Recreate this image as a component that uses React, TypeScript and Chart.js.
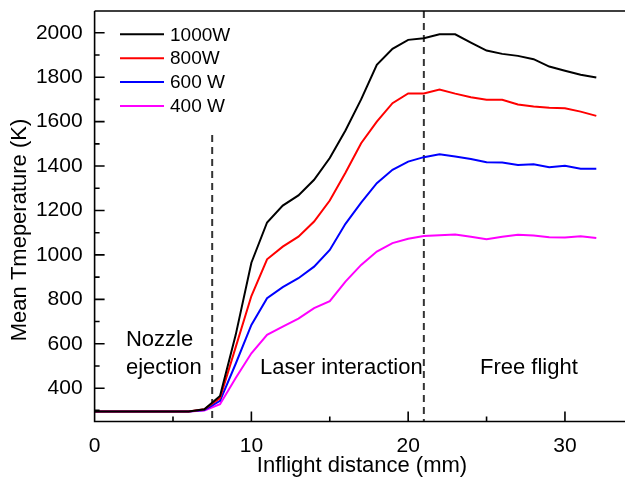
import React, { useEffect, useRef } from "react";
import { Chart, registerables } from "chart.js";

Chart.register(...registerables);

const distance = [0, 1, 2, 3, 4, 5, 6, 7, 8, 9, 10, 11, 12, 13, 14, 15, 16, 17, 18, 19, 20, 21, 22, 23, 24, 25, 26, 27, 28, 29, 30, 31, 32];

const temp1000 = [295, 295, 295, 295, 295, 295, 295, 305, 365, 640, 965, 1146, 1222, 1268, 1338, 1436, 1560, 1700, 1856, 1928, 1968, 1975, 1993, 1993, 1956, 1920, 1905, 1896, 1881, 1848, 1829, 1811, 1799];
const temp800 = [295, 295, 295, 295, 295, 295, 295, 305, 355, 585, 815, 980, 1037, 1082, 1150, 1245, 1370, 1503, 1600, 1683, 1727, 1727, 1745, 1726, 1710, 1698, 1698, 1677, 1668, 1662, 1660, 1645, 1626];
const temp600 = [295, 295, 295, 295, 295, 295, 295, 302, 343, 510, 685, 805, 855, 895, 947, 1022, 1140, 1235, 1323, 1383, 1420, 1440, 1453, 1443, 1432, 1417, 1416, 1405, 1408, 1395, 1401, 1388, 1388];
const temp400 = [295, 295, 295, 295, 295, 295, 295, 300, 328, 446, 557, 640, 677, 713, 760, 792, 880, 955, 1015, 1053, 1073, 1085, 1088, 1092, 1082, 1070, 1082, 1091, 1087, 1080, 1078, 1084, 1076];

const seriesLabels = ["1000W", "800W", "600 W", "400 W"];
const seriesColors = ["#000000", "#ff0000", "#0000ff", "#ff00ff"];

const xTicks = [0, 10, 20, 30];
const xMinorTicks = [5, 15, 25];
const yTicks = [400, 600, 800, 1000, 1200, 1400, 1600, 1800, 2000];
const yMinorTicks = [300, 500, 700, 900, 1100, 1300, 1500, 1700, 1900];

// dashed dividers: [x, yTop, yBottom]
const divider1 = [7.5, 1540, 250];
const divider2 = [21, 2098, 250];

const regionLabels = [
  { lines: ["Nozzle", "ejection"], x: 2.0, y: 622 },
  { lines: ["Laser interaction"], x: 10.55, y: 497 },
  { lines: ["Free flight"], x: 24.58, y: 497 },
];

const FONT = '"Liberation Sans", Arial, sans-serif';

export default function App() {
  const ref = useRef<HTMLCanvasElement | null>(null);

  useEffect(() => {
    if (!ref.current) return;
    const mk = (vals: number[]) => vals.map((v, i) => ({ x: distance[i], y: v }));
    const series = [temp1000, temp800, temp600, temp400];

    const framePlugin = {
      id: "frame",
      afterDraw(chart: any) {
        const { ctx, chartArea, scales } = chart;
        const { left, right, top, bottom } = chartArea;
        const x = scales.x;
        const y = scales.y;
        ctx.save();
        ctx.strokeStyle = "#000";
        ctx.lineWidth = 1.6;
        ctx.beginPath();
        ctx.moveTo(left, top);
        ctx.lineTo(right, top);
        ctx.moveTo(left, top);
        ctx.lineTo(left, bottom);
        ctx.lineTo(right, bottom);
        xTicks.forEach((v) => {
          const p = x.getPixelForValue(v);
          ctx.moveTo(p, bottom);
          ctx.lineTo(p, bottom - 10);
        });
        xMinorTicks.forEach((v) => {
          const p = x.getPixelForValue(v);
          ctx.moveTo(p, bottom);
          ctx.lineTo(p, bottom - 5);
        });
        yTicks.forEach((v) => {
          const p = y.getPixelForValue(v);
          ctx.moveTo(left, p);
          ctx.lineTo(left + 10, p);
        });
        yMinorTicks.forEach((v) => {
          const p = y.getPixelForValue(v);
          ctx.moveTo(left, p);
          ctx.lineTo(left + 5, p);
        });
        ctx.stroke();

        // legend
        ctx.font = `19px ${FONT}`;
        ctx.textBaseline = "middle";
        ctx.textAlign = "left";
        seriesLabels.forEach((lab, i) => {
          const yy = 34.3 + i * 23.9;
          ctx.strokeStyle = seriesColors[i];
          ctx.lineWidth = 2;
          ctx.beginPath();
          ctx.moveTo(120, yy);
          ctx.lineTo(164, yy);
          ctx.stroke();
          ctx.fillStyle = "#000";
          ctx.fillText(lab, 170, yy + 1);
        });

        // region labels
        ctx.font = `22px ${FONT}`;
        ctx.fillStyle = "#000";
        regionLabels.forEach((r) => {
          const px = x.getPixelForValue(r.x);
          const py = y.getPixelForValue(r.y);
          r.lines.forEach((ln, j) => {
            ctx.fillText(ln, px, py + j * 27.7 + 1);
          });
        });

        // axis titles
        ctx.font = `22px ${FONT}`;
        ctx.textAlign = "center";
        ctx.fillText("Inflight distance (mm)", 362, 466);
        ctx.save();
        ctx.translate(20, 230);
        ctx.rotate(-Math.PI / 2);
        ctx.fillText("Mean Tmeperature (K)", 0, 0);
        ctx.restore();
        ctx.restore();
      },
    };

    const chart = new Chart(ref.current, {
      type: "line",
      data: {
        datasets: [
          ...series.map((s, i) => ({
            label: seriesLabels[i],
            data: mk(s),
            borderColor: seriesColors[i],
            backgroundColor: seriesColors[i],
            borderWidth: 2,
            pointRadius: 0,
            tension: 0,
            fill: false,
          })),
          {
            label: "",
            data: [
              { x: divider1[0], y: divider1[1] },
              { x: divider1[0], y: divider1[2] },
            ],
            borderColor: "#333333",
            borderWidth: 2,
            borderDash: [7, 5],
            pointRadius: 0,
            fill: false,
          },
          {
            label: "",
            data: [
              { x: divider2[0], y: divider2[1] },
              { x: divider2[0], y: divider2[2] },
            ],
            borderColor: "#333333",
            borderWidth: 2,
            borderDash: [7, 5],
            pointRadius: 0,
            fill: false,
          },
        ],
      },
      options: {
        responsive: false,
        animation: false,
        devicePixelRatio: 1,
        layout: { padding: { top: 11, left: 0, right: 0, bottom: 0 } },
        plugins: { legend: { display: false }, tooltip: { enabled: false } },
        scales: {
          x: {
            type: "linear",
            min: 0,
            max: 33.83,
            grid: { display: false, drawTicks: false },
            border: { display: false },
            ticks: {
              color: "#000",
              font: { size: 21, family: FONT },
              padding: 12,
              maxRotation: 0,
              callback: (v: any) => String(v),
            },
            afterBuildTicks: (s: any) => {
              s.ticks = xTicks.map((v) => ({ value: v }));
            },
            afterFit: (s: any) => {
              s.height = 58.5;
              s.paddingLeft = 0;
              s.paddingRight = 0;
            },
          },
          y: {
            type: "linear",
            min: 250,
            max: 2098,
            grid: { display: false, drawTicks: false },
            border: { display: false },
            ticks: {
              color: "#000",
              font: { size: 21, family: FONT },
              padding: 12,
              callback: (v: any) => String(v),
            },
            afterBuildTicks: (s: any) => {
              s.ticks = yTicks.map((v) => ({ value: v }));
            },
            afterFit: (s: any) => {
              s.width = 94.6;
              s.paddingTop = 0;
              s.paddingBottom = 0;
            },
          },
        },
      } as any,
      plugins: [framePlugin],
    });
    return () => chart.destroy();
  }, []);

  return (
    <canvas
      ref={ref}
      width={625}
      height={480}
      style={{ position: "absolute", left: 0, top: 0, width: 625, height: 480 }}
    />
  );
}
